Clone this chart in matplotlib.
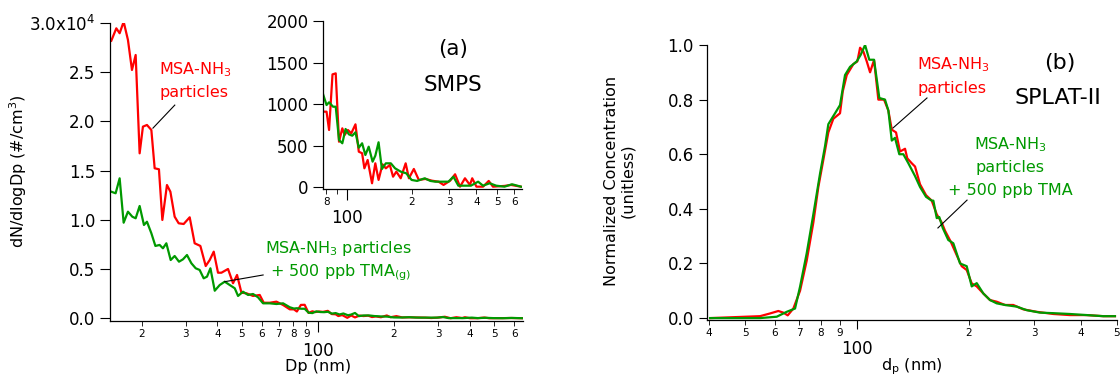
import matplotlib
matplotlib.use('Agg')
import matplotlib.pyplot as plt
from matplotlib.ticker import NullLocator

# --- SMPS data (dN/dlogDp, #/cm3) ---
smps_dp_red = [15.18, 15.89, 16.38, 16.99, 17.67, 18.33, 18.96, 19.66, 20.26, 21.02,
               21.88, 22.55, 23.45, 24.19, 25.23, 26.03, 27.07, 28.08, 29.39, 31.05,
               32.49, 34.23, 35.94, 37.28, 38.67, 40.21, 41.48, 44.06, 46.12, 47.84,
               49.80, 52.14, 55.36, 58.84, 61.05, 64.51, 68.56, 72.84, 77.44,
               80.4, 82.6, 85.7, 88.7, 91.9, 95.2, 97.6, 101.1, 104.8, 109.6,
               113.6, 117.7, 120.6, 124.9, 130.9, 135.6, 140.4, 146.4, 151.8, 158.4,
               164.0, 169.9, 178.0, 187.7, 194.3, 204.9, 216.1, 232.0, 248.8, 267.1,
               281.7, 302.3, 318.8, 336.1, 354.4, 373.7, 383.0, 400.8, 430.2, 457.1,
               478.4, 541.5, 580.7, 645.6]
smps_red = [28200, 29460, 28960, 30130, 28280, 25230, 26750, 16760, 19470, 19640,
            19130, 15240, 15140, 9990, 13540, 12860, 10320, 9650, 9580, 10260,
            7620, 7350, 5310, 5920, 6770, 4630, 4630, 5010, 3560, 4400,
            2600, 2540, 2270, 2370, 1580, 1580, 1690, 1350, 910,
            909, 689, 1358, 1370, 548, 709, 629, 689, 649, 757,
            428, 409, 228, 328, 48, 288, 88, 276, 228, 268,
            127, 188, 108, 288, 108, 220, 88, 100, 79, 67,
            28, 79, 156, 7, 108, 28, 108, 7, 7, 76,
            7, 16, 28, 7]

smps_dp_green = [15.18, 15.79, 16.38, 16.99, 17.67, 18.39, 18.96, 19.66, 20.45, 21.02,
                 21.88, 22.70, 23.60, 24.32, 25.09, 26.10, 27.07, 28.16, 29.20, 30.29,
                 31.53, 32.80, 34.01, 35.28, 36.37, 37.52, 39.03, 40.84, 42.76, 44.76,
                 46.85, 48.28, 50.53, 52.89, 55.36, 57.96, 60.66, 64.51, 68.56, 72.84,
                 77.44,
                 80.4, 82.6, 86.2, 88.7, 91.9, 95.2, 98.6, 102.1, 105.9, 109.6,
                 113.6, 117.7, 121.9, 126.3, 131.7, 135.6, 140.4, 145.5, 151.8, 160.1,
                 167.5, 178.0, 188.8, 200.0, 212.2, 230.2, 244.6, 257.9, 276.6, 296.9,
                 313.1, 330.1, 354.4, 377.7, 408.0, 430.2, 461.9, 495.3, 541.5, 586.9,
                 645.6]
smps_green = [12860, 12700, 14220, 9710, 10830, 10320, 10160, 11410, 9480, 9810,
              8640, 7350, 7450, 7110, 7620, 5920, 6330, 5750, 5990, 6430,
              5590, 5080, 4910, 4060, 4230, 5080, 2800, 3380, 3720, 3380,
              3050, 2270, 2700, 2370, 2470, 2130, 1520, 1520, 1450, 1520,
              1120,
              989, 1022, 969, 969, 569, 529, 701, 637, 620, 661,
              476, 529, 388, 488, 308, 380, 541, 220, 288, 288,
              228, 188, 168, 88, 76, 108, 76, 67, 67, 67,
              127, 19, 19, 19, 67, 19, 48, 19, 7, 36,
              7]

# --- SPLAT-II data (normalized) ---
splat_dp_red = [40.26, 54.85, 58.37, 61.43, 63.36, 65.11, 67.42, 70.27, 73.22, 76.30,
                78.70, 81.18, 83.72, 86.36, 90.0, 91.54, 93.83, 97.75, 100.2, 101.9,
                104.0, 106.2, 108.4, 111.1, 114.1, 118.2, 121.4, 124.0, 127.3, 130.5,
                134.6, 136.5, 140.3, 143.2, 147.7, 153.3, 158.8, 163.8, 168.9, 172.4,
                178.6, 185.4, 191.2, 197.2, 203.4, 209.8, 218.6, 227.8, 237.4, 250.0,
                263.1, 279.9, 304.2, 337.1, 373.7, 414.5, 459.4, 493.7]
splat_red = [0.0, 0.007, 0.017, 0.026, 0.02, 0.01, 0.035, 0.10, 0.21, 0.35,
             0.48, 0.58, 0.68, 0.73, 0.75, 0.83, 0.89, 0.93, 0.94, 0.99,
             0.976, 0.94, 0.90, 0.945, 0.80, 0.80, 0.76, 0.69, 0.68, 0.61,
             0.62, 0.585, 0.567, 0.555, 0.49, 0.45, 0.43, 0.38, 0.35, 0.32,
             0.28, 0.23, 0.19, 0.176, 0.127, 0.116, 0.09, 0.066, 0.06, 0.048,
             0.048, 0.032, 0.023, 0.015, 0.011, 0.011, 0.007, 0.007]

splat_dp_green = [40.26, 54.85, 60.83, 64.71, 68.13, 70.27, 73.22, 76.30, 79.55, 82.03,
                  83.72, 86.36, 87.28, 90.0, 92.83, 95.76, 99.81, 102.3, 105.1, 107.9,
                  111.1, 114.8, 118.9, 121.4, 124.0, 126.5, 129.9, 133.2, 137.4, 143.2,
                  147.7, 153.3, 158.8, 160.4, 163.8, 166.4, 170.0, 175.9, 181.5, 189.2,
                  197.2, 203.4, 209.8, 218.6, 227.8, 237.4, 250.0, 268.7, 285.9, 310.4,
                  337.1, 373.7, 414.5, 459.4, 493.7]
splat_green = [0.0, 0.0, 0.005, 0.023, 0.035, 0.115, 0.237, 0.38, 0.53, 0.63,
               0.71, 0.74, 0.75, 0.78, 0.89, 0.92, 0.94, 0.964, 1.0, 0.946,
               0.946, 0.806, 0.80, 0.76, 0.65, 0.66, 0.60, 0.60, 0.567, 0.52,
               0.48, 0.444, 0.43, 0.43, 0.366, 0.37, 0.33, 0.286, 0.274, 0.20,
               0.19, 0.116, 0.128, 0.09, 0.066, 0.054, 0.048, 0.042, 0.029, 0.02,
               0.018, 0.015, 0.011, 0.007, 0.007]

# tick labels (Igor style: only 100 is a major tick)
main_minor = [20, 30, 40, 50, 60, 70, 80, 90, 200, 300, 400, 500, 600]
main_minor_labels = ['2', '3', '4', '5', '6', '7', '8', '9', '2', '3', '4', '5', '6']
inset_minor = [80, 90, 200, 300, 400, 500, 600]
inset_minor_labels = ['8', '', '2', '3', '4', '5', '6']
splat_minor = [40, 50, 60, 70, 80, 90, 200, 300, 400, 500]
splat_minor_labels = ['4', '5', '6', '7', '8', '9', '2', '3', '4', '5']

smps_yticks = [0, 5000, 10000, 15000, 20000, 25000, 30000]
smps_ylabels = ['0.0', '0.5', '1.0', '1.5', '2.0', '2.5', r'3.0x10$^4$']
inset_yticks = [0, 500, 1000, 1500, 2000]
splat_yticks = [0.0, 0.2, 0.4, 0.6, 0.8, 1.0]

RED = '#ff0000'
GREEN = '#009900'
W, H = 1120, 381


def px_axes(fig, x0, x1, ytop, ybot):
    """ axes from pixel box """
    return fig.add_axes([x0 / W, 1 - ybot / H, (x1 - x0) / W, (ybot - ytop) / H])


def style_axis(ax, minor, minor_labels, major_len=8, major_pad=7, ylen=7):
    ax.set_xscale('log')
    for s in ['top', 'right']:
        ax.spines[s].set_visible(False)
    for s in ['left', 'bottom']:
        ax.spines[s].set_linewidth(0.9)
    ax.set_xticks([100], ['100'])
    ax.set_xticks(minor, minor_labels, minor=True)
    ax.tick_params(axis='x', which='major', direction='out', length=major_len, pad=major_pad, labelsize=12)
    ax.tick_params(axis='x', which='minor', direction='out', length=3.5, pad=2.5, labelsize=7.5)
    ax.tick_params(axis='y', which='major', direction='out', length=ylen, labelsize=12)
    ax.yaxis.set_minor_locator(NullLocator())


fig = plt.figure(figsize=(W / 100, H / 100), dpi=100)

# ---------- (a) SMPS ----------
ax1 = px_axes(fig, 110, 523, 23, 320.7)
ax1.plot(smps_dp_red, smps_red, color=RED, lw=1.6)
ax1.plot(smps_dp_green, smps_green, color=GREEN, lw=1.6)
ax1.set_xlim(15, 651)
ax1.set_ylim(-245, 30000)
style_axis(ax1, main_minor, main_minor_labels)
ax1.set_yticks(smps_yticks, smps_ylabels)

ax1.text(32.6, 25230, 'MSA-NH$_3$', color=RED, fontsize=11.5, ha='center', va='center')
ax1.text(32.3, 22890, 'particles', color=RED, fontsize=11.5, ha='center', va='center')
ax1.plot([27.1, 22.2], [21660, 19320], color='black', lw=0.8)

ax1.text(61.6, 7140, 'MSA-NH$_3$ particles', color=GREEN, fontsize=11.5, ha='left', va='center')
ax1.text(64.5, 4600, '+ 500 ppb TMA$_\\mathregular{(g)}$', color=GREEN, fontsize=11.5, ha='left', va='center')
ax1.plot([42.76, 60.7], [3720, 4400], color='black', lw=0.8)

ax1.text(343, 27400, '(a)', fontsize=15.5, ha='center', va='center')
ax1.text(343, 23700, 'SMPS', fontsize=15.5, ha='center', va='center')

# inset
ax_in = px_axes(fig, 323, 522, 21, 188.5)
ax_in.set_facecolor('none')
ax_in.plot(smps_dp_red, smps_red, color=RED, lw=1.6)
ax_in.plot(smps_dp_green, smps_green, color=GREEN, lw=1.6)
ax_in.set_xlim(77.4, 653)
ax_in.set_ylim(-15, 2000)
style_axis(ax_in, inset_minor, inset_minor_labels)
ax_in.set_yticks(inset_yticks)

fig.text(318 / W, 1 - 366 / H, 'Dp (nm)', fontsize=11.5, ha='center', va='center')
fig.text(18 / W, 1 - 171 / H, 'dN/dlogDp (#/cm$^3$)', fontsize=11.5, rotation=90, ha='center', va='center')

# ---------- (b) SPLAT-II ----------
ax2 = px_axes(fig, 707, 1117, 45, 320)
ax2.plot(splat_dp_red, splat_red, color=RED, lw=1.6)
ax2.plot(splat_dp_green, splat_green, color=GREEN, lw=1.6)
ax2.set_xlim(39.5, 500)
ax2.set_ylim(-0.007, 1.0)
style_axis(ax2, splat_minor, splat_minor_labels, major_len=6.5, major_pad=8, ylen=6)
ax2.set_yticks(splat_yticks, ['%.1f' % v for v in splat_yticks])

ax2.text(181, 0.927, 'MSA-NH$_3$', color=RED, fontsize=11.5, ha='center', va='center')
ax2.text(180, 0.842, 'particles', color=RED, fontsize=11.5, ha='center', va='center')
ax2.plot([154.2, 124.9], [0.806, 0.696], color='black', lw=0.8)

ax2.text(257.7, 0.634, 'MSA-NH$_3$', color=GREEN, fontsize=11.5, ha='center', va='center')
ax2.text(257.7, 0.553, 'particles', color=GREEN, fontsize=11.5, ha='center', va='center')
ax2.text(257.7, 0.469, '+ 500 ppb TMA', color=GREEN, fontsize=11.5, ha='center', va='center')
ax2.plot([197.6, 165.0], [0.432, 0.330], color='black', lw=0.8)

ax2.text(351, 0.934, '(b)', fontsize=16, ha='center', va='center')
ax2.text(347, 0.806, 'SPLAT-II', fontsize=16, ha='center', va='center')

fig.text(912 / W, 1 - 367 / H, 'd$_\\mathregular{p}$ (nm)', fontsize=11.5, ha='center', va='center')
fig.text(620 / W, 1 - 181 / H, 'Normalized Concentration\n(unitless)', fontsize=11.5,
         rotation=90, ha='center', va='center', linespacing=1.1)

plt.savefig('out.png', dpi=100)
